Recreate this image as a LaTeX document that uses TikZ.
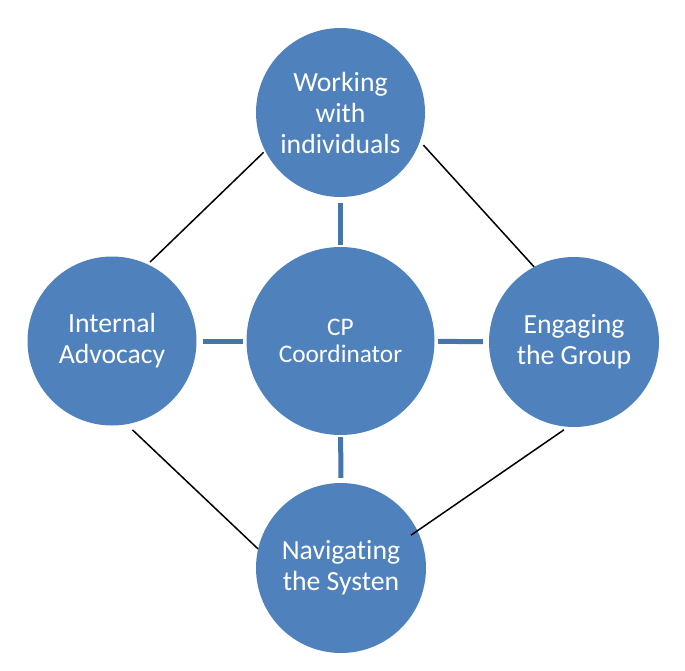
\documentclass[tikz,border=0pt]{standalone}
\usepackage{fontspec}
\setmainfont[Ligatures=NoCommon]{Carlito}
\definecolor{circblue}{HTML}{4F81BD}
\tikzset{
  bubble/.style={circle, fill=circblue, inner sep=0pt, text=white, align=center,
    font=\fontsize{27.7}{31}\selectfont},
  bar/.style={draw=circblue!90!black, line width=5pt},
  link/.style={draw=black, line width=1.5pt}
}
\begin{document}
\begin{tikzpicture}[x=1pt,y=-1pt]
\useasboundingbox (0,0) rectangle (685,671);
\node[bubble, minimum size=169pt] (T) at (340.5,112.5) {Working\\with\\individuals};
\node[bubble, minimum size=188pt, font=\fontsize{25.3}{27}\selectfont] (C) at (340.5,341) {CP\\Coordinator};
\node[bubble, minimum size=169pt] (L) at (112,341) {Internal\\Advocacy};
\node[bubble, minimum size=170pt] (R) at (574,342) {Engaging\\the Group};
\node[bubble, minimum size=170pt] (B) at (341,568) {Navigating\\the Systen};
% thick connectors to centre
\draw[bar, shorten <=6pt, shorten >=2pt] (T) -- (C);
\draw[bar, shorten <=6.5pt, shorten >=3.5pt] (L) -- (C);
\draw[bar, shorten <=3.5pt, shorten >=6pt] (C) -- (R);
\draw[bar, shorten <=2pt, shorten >=5pt] (C) -- (B);
% thin outer connectors
\draw[link, shorten <=3pt, shorten >=2pt] (L.65) -- (T.207);
\draw[link, shorten <=5pt] (T.-20) -- (R.118);
\draw[link, shorten <=8pt] (L.-80) -- (B.167);
\draw[link, shorten <=5pt, shorten >=-8pt] (R.-94) -- (B.26);
\end{tikzpicture}
\end{document}
